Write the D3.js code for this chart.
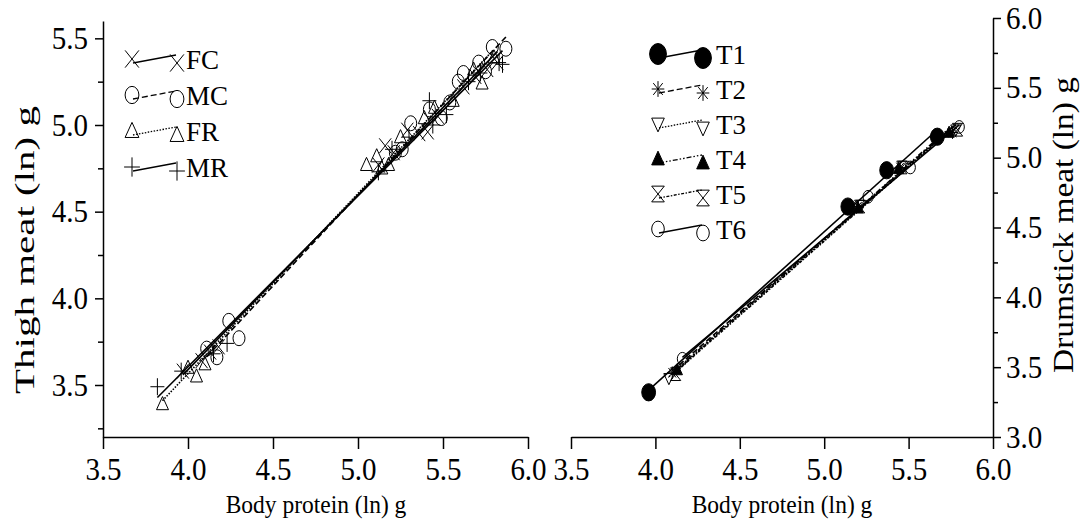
<!DOCTYPE html>
<html>
<head>
<meta charset="utf-8">
<script src="https://cdn.jsdelivr.net/npm/d3@7"></script>
<style>
  body { margin: 0; background: #fff; }
  svg { display: block; }
  text { font-family: 'Liberation Serif', 'Times New Roman', serif; fill: #000; }
  .tall { transform-box: fill-box; transform-origin: center; }
</style>
</head>
<body>
<svg id="chart" width="1088" height="529"></svg>
<script>
var proteinTicks = [3.5, 4.0, 4.5, 5.0, 5.5, 6.0];
var thighTicks = [3.5, 4.0, 4.5, 5.0, 5.5];
var thighMinorTicks = [3.25, 3.75, 4.25, 4.75, 5.25];
var drumTicks = [3.0, 3.5, 4.0, 4.5, 5.0, 5.5, 6.0];
var drumMinorTicks = [3.25, 3.75, 4.25, 4.75, 5.25, 5.75];

// left panel: individual birds, ln body protein vs ln thigh meat
var groupNames = ['FC', 'MC', 'FR', 'MR'];
var fcProtein = [3.97, 4.08, 4.13, 4.18, 5.12, 5.16, 5.21, 5.29, 5.36, 5.41, 5.47, 5.62, 5.69, 5.76, 5.82];
var fcThigh = [3.58, 3.64, 3.69, 3.72, 4.77, 4.88, 4.84, 4.97, 4.95, 4.96, 5.05, 5.22, 5.28, 5.32, 5.36];
var mcProtein = [4.11, 4.17, 4.24, 4.30, 5.22, 5.26, 5.31, 5.42, 5.49, 5.54, 5.59, 5.62, 5.71, 5.75, 5.79, 5.87];
var mcThigh = [3.71, 3.66, 3.87, 3.77, 4.84, 4.86, 5.01, 5.09, 5.04, 5.13, 5.25, 5.30, 5.36, 5.31, 5.45, 5.44];
var frProtein = [3.85, 4.00, 4.05, 4.10, 5.05, 5.11, 5.14, 5.18, 5.25, 5.39, 5.45, 5.56, 5.68, 5.73, 5.80];
var frThigh = [3.39, 3.60, 3.55, 3.62, 4.77, 4.82, 4.75, 4.77, 4.93, 5.04, 5.10, 5.14, 5.32, 5.24, 5.39];
var mrProtein = [3.82, 3.96, 4.15, 4.23, 5.12, 5.20, 5.30, 5.42, 5.44, 5.52, 5.65, 5.72, 5.83, 5.85];
var mrThigh = [3.49, 3.58, 3.68, 3.74, 4.73, 4.86, 4.93, 5.14, 5.00, 5.06, 5.25, 5.30, 5.36, 5.35];

// right panel: treatment means, ln body protein vs ln drumstick meat
var treatNames = ['T1', 'T2', 'T3', 'T4', 'T5', 'T6'];
var t1Protein = [3.96, 5.14, 5.37, 5.67];
var t1Drum = [3.32, 4.65, 4.91, 5.15];
var t2Protein = [4.10, 5.20, 5.45, 5.76];
var t2Drum = [3.46, 4.65, 4.93, 5.18];
var t3Protein = [4.08, 5.22, 5.47, 5.78];
var t3Drum = [3.42, 4.66, 4.94, 5.20];
var t4Protein = [4.13, 5.20, 5.44, 5.74];
var t4Drum = [3.48, 4.64, 4.92, 5.18];
var t5Protein = [4.12, 5.21, 5.46, 5.79];
var t5Drum = [3.45, 4.65, 4.93, 5.20];
var t6Protein = [4.16, 5.26, 5.51, 5.80];
var t6Drum = [3.56, 4.72, 4.93, 5.22];

var leftSeries = [
  {name: groupNames[0], xs: fcProtein, ys: fcThigh, symbol: 'x', dash: null},
  {name: groupNames[1], xs: mcProtein, ys: mcThigh, symbol: 'circle', dash: '6,3'},
  {name: groupNames[2], xs: frProtein, ys: frThigh, symbol: 'triangle', dash: '1.5,1.5'},
  {name: groupNames[3], xs: mrProtein, ys: mrThigh, symbol: 'plus', dash: null}
];

var rightSeries = [
  {name: treatNames[0], xs: t1Protein, ys: t1Drum, symbol: 'dot', dash: null},
  {name: treatNames[1], xs: t2Protein, ys: t2Drum, symbol: 'star', dash: '6,3'},
  {name: treatNames[2], xs: t3Protein, ys: t3Drum, symbol: 'tri-down', dash: '1.5,1.5'},
  {name: treatNames[3], xs: t4Protein, ys: t4Drum, symbol: 'tri-filled', dash: '5,2,1.5,2,1.5,2'},
  {name: treatNames[4], xs: t5Protein, ys: t5Drum, symbol: 'hourglass', dash: '3,1.5,1.5,1.5'},
  {name: treatNames[5], xs: t6Protein, ys: t6Drum, symbol: 'circle', dash: null}
];

var fmt = d3.format('.1f');
var svg = d3.select('#chart');

// least squares line
var fit = function (xs, ys) {
  var mx = d3.mean(xs);
  var my = d3.mean(ys);
  var sxy = d3.sum(xs, function (x, i) { return (x - mx) * (ys[i] - my); });
  var sxx = d3.sum(xs, function (x) { return (x - mx) * (x - mx); });
  var b = sxy / sxx;
  return {slope: b, intercept: my - b * mx};
};

var drawSymbol = function (g, type, cx, cy, k) {
  var s = g.append('g')
      .attr('transform', 'translate(' + cx + ',' + cy + ')')
      .attr('stroke', '#000')
      .attr('stroke-width', 1)
      .attr('fill', 'none');
  var w = 6 * k;
  var h = 7.5 * k;

  if (type === 'x') {
    s.append('path').attr('d', 'M' + (-w) + ',' + (-h) + 'L' + w + ',' + h + 'M' + (-w) + ',' + h + 'L' + w + ',' + (-h));
  } else if (type === 'circle') {
    s.append('ellipse').attr('rx', w).attr('ry', h);
  } else if (type === 'dot') {
    s.append('ellipse').attr('rx', w).attr('ry', h).attr('fill', '#000');
  } else if (type === 'triangle' || type === 'tri-filled') {
    s.append('path')
        .attr('d', 'M0,' + (-h) + 'L' + w + ',' + (h * 0.75) + 'L' + (-w) + ',' + (h * 0.75) + 'Z')
        .attr('fill', type === 'tri-filled' ? '#000' : 'none');
  } else if (type === 'tri-down') {
    s.append('path').attr('d', 'M' + (-w) + ',' + (-h * 0.75) + 'L' + w + ',' + (-h * 0.75) + 'L0,' + h + 'Z');
  } else if (type === 'plus') {
    s.append('path').attr('d', 'M' + (-w - 1) + ',0H' + (w + 1) + 'M0,' + (-h - 1) + 'V' + (h + 1));
  } else if (type === 'star') {
    var d = 0.75;
    s.append('path').attr('d', 'M0,' + (-h) + 'V' + h + 'M' + (-w) + ',0H' + w +
        'M' + (-w * d) + ',' + (-h * d) + 'L' + (w * d) + ',' + (h * d) +
        'M' + (-w * d) + ',' + (h * d) + 'L' + (w * d) + ',' + (-h * d));
  } else if (type === 'hourglass') {
    s.append('path').attr('d', 'M' + (-w) + ',' + (-h) + 'L' + w + ',' + (-h) + 'L' + (-w) + ',' + h + 'L' + w + ',' + h + 'Z');
  }
};

var drawPanel = function (series, xScale, yScale, symbolSize) {
  var g = svg.append('g');

  series.forEach(function (s) {
    var line = fit(s.xs, s.ys);
    var x0 = d3.min(s.xs);
    var x1 = d3.max(s.xs);
    g.append('line')
        .attr('x1', xScale(x0))
        .attr('y1', yScale(line.intercept + line.slope * x0))
        .attr('x2', xScale(x1))
        .attr('y2', yScale(line.intercept + line.slope * x1))
        .attr('stroke', '#000')
        .attr('stroke-width', 1.6)
        .attr('stroke-dasharray', s.dash);
  });

  series.forEach(function (s) {
    var k = symbolSize(s);
    s.xs.forEach(function (x, i) {
      drawSymbol(g, s.symbol, xScale(x), yScale(s.ys[i]), k);
    });
  });
};

var drawLegend = function (series, x, y0, step, labelGap, symbolSize) {
  var g = svg.append('g');
  series.forEach(function (s, i) {
    var cy = y0 + i * step;
    g.append('line')
        .attr('x1', x + 1).attr('y1', cy + 2)
        .attr('x2', x + 44).attr('y2', cy - 6)
        .attr('stroke', '#000')
        .attr('stroke-width', 1.3)
        .attr('stroke-dasharray', s.dash);
    drawSymbol(g, s.symbol, x, cy - 2, symbolSize(s));
    drawSymbol(g, s.symbol, x + 45, cy + 2, symbolSize(s));
    g.append('text')
        .attr('x', x + labelGap)
        .attr('y', cy + 8)
        .attr('font-size', 27)
        .text(s.name);
  });
};

var styleAxis = function (g, fontSize) {
  g.attr('font-family', null).attr('font-size', null);
  g.selectAll('path, line').attr('stroke', '#000').attr('stroke-width', 1.5);
  g.selectAll('text')
      .attr('font-size', fontSize)
      .attr('fill', '#000')
      .attr('class', 'tall')
      .attr('transform', 'scale(1,1.08)');
};

// left panel
var xLeft = d3.scaleLinear().domain([3.5, 6.0]).range([103, 528]);
var yLeft = d3.scaleLinear().domain([3.2, 5.6]).range([437, 21]);

svg.append('g').attr('transform', 'translate(0,437)')
    .call(d3.axisBottom(xLeft).tickValues(proteinTicks).tickSize(12).tickSizeOuter(0).tickPadding(10).tickFormat(fmt))
    .call(styleAxis, 29);
svg.append('g').attr('transform', 'translate(103,0)')
    .call(d3.axisLeft(yLeft).tickValues(thighMinorTicks).tickSize(5).tickFormat(''))
    .call(styleAxis, 29)
    .select('.domain').remove();
svg.append('g').attr('transform', 'translate(103,0)')
    .call(d3.axisLeft(yLeft).tickValues(thighTicks).tickSize(8).tickSizeOuter(0).tickPadding(7).tickFormat(fmt))
    .call(styleAxis, 29);

drawPanel(leftSeries, xLeft, yLeft, function () { return 1; });
drawLegend(leftSeries, 132, 61, 36, 54, function () { return 1.15; });

// right panel
var xRight = d3.scaleLinear().domain([3.5, 6.0]).range([571, 993]);
var yRight = d3.scaleLinear().domain([3.0, 6.0]).range([437, 18]);

svg.append('g').attr('transform', 'translate(0,437)')
    .call(d3.axisBottom(xRight).tickValues(proteinTicks).tickSize(12).tickSizeOuter(0).tickPadding(10).tickFormat(fmt))
    .call(styleAxis, 29);
svg.append('g').attr('transform', 'translate(993,0)')
    .call(d3.axisRight(yRight).tickValues(drumMinorTicks).tickSize(5).tickFormat(''))
    .call(styleAxis, 29)
    .select('.domain').remove();
svg.append('g').attr('transform', 'translate(993,0)')
    .call(d3.axisRight(yRight).tickValues(drumTicks).tickSize(8).tickSizeOuter(0).tickPadding(5).tickFormat(fmt))
    .call(styleAxis, 29);

drawPanel(rightSeries, xRight, yRight, function (s) { return s.symbol === 'dot' ? 1.15 : 0.85; });
drawLegend(rightSeries, 658, 56, 35, 58, function (s) { return s.symbol === 'dot' ? 1.4 : 1.05; });

// axis titles
[316, 782].forEach(function (cx) {
  svg.append('text')
      .attr('x', cx).attr('y', 512)
      .attr('text-anchor', 'middle')
      .attr('font-size', 23.5)
      .attr('class', 'tall')
      .attr('transform', 'scale(1,1.1)')
      .text('Body protein (ln) g');
});
svg.append('text')
    .attr('transform', 'translate(34,250) rotate(-90)')
    .attr('text-anchor', 'middle')
    .attr('font-size', 28)
    .attr('textLength', 288)
    .attr('lengthAdjust', 'spacingAndGlyphs')
    .text('Thigh meat (ln) g');
svg.append('text')
    .attr('transform', 'translate(1073,225) rotate(-90)')
    .attr('text-anchor', 'middle')
    .attr('font-size', 29)
    .attr('textLength', 296)
    .attr('lengthAdjust', 'spacingAndGlyphs')
    .text('Drumstick meat (ln) g');
</script>
</body>
</html>
